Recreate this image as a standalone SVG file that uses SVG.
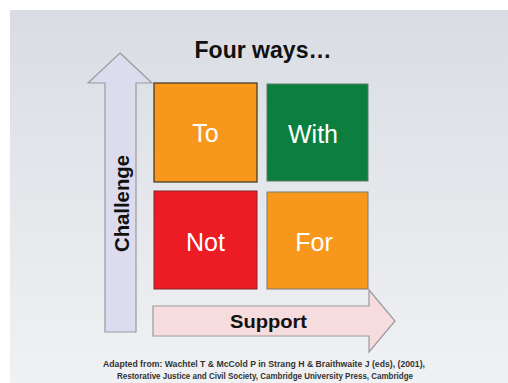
<svg xmlns="http://www.w3.org/2000/svg" width="508" height="383" viewBox="0 0 508 383">
  <style>
    .lbl { font-family: "Liberation Sans", Arial, sans-serif; fill: #ffffff; font-size: 25px; text-anchor: middle; }
    .bold { font-family: "Liberation Sans", Arial, sans-serif; font-weight: bold; fill: #111111; text-anchor: middle; }
    .foot { font-family: "Liberation Sans", Arial, sans-serif; font-weight: bold; fill: #333333; font-size: 9px; text-anchor: middle; }
    .axis { stroke: #9a9a9e; stroke-width: 1.2; }
  </style>
  <defs>
    <linearGradient id="bg" x1="0" y1="0" x2="0" y2="1">
      <stop offset="0" stop-color="#d9dde3"/>
      <stop offset="1" stop-color="#f0f1f3"/>
    </linearGradient>
  </defs>
  <rect x="0" y="0" width="508" height="383" fill="#ffffff"/>
  <rect x="10" y="10" width="498" height="373" fill="url(#bg)"/>

  <g id="title">
    <text class="bold" x="263" y="58" font-size="23" textLength="137" lengthAdjust="spacingAndGlyphs">Four ways…</text>
  </g>

  <g id="connectors">
    <g id="challenge-axis">
      <polygon class="axis" fill="#dcdcee" points="120,53 152,83 136,83 136,332 105,332 105,83 88,83"/>
      <text class="bold" font-size="20" transform="translate(129,203.5) rotate(-90)" textLength="97" lengthAdjust="spacingAndGlyphs">Challenge</text>
    </g>
    <g id="support-axis">
      <polygon class="axis" fill="#f6dcdc" points="153,306 369,306 369,290 395,321 369,352 369,336 153,336"/>
      <text class="bold" font-size="19" x="268.5" y="328" textLength="77" lengthAdjust="spacingAndGlyphs">Support</text>
    </g>
  </g>

  <g id="to">
    <rect x="154" y="83" width="103" height="99" fill="#f7981d" stroke="#3a3226" stroke-width="1.2"/>
    <text class="lbl" x="205.5" y="142">To</text>
  </g>
  <g id="with">
    <rect x="267" y="84" width="101" height="97" fill="#0c7f3f" stroke="#5a7a68" stroke-width="1"/>
    <text class="lbl" x="313" y="143">With</text>
  </g>
  <g id="not">
    <rect x="154" y="191" width="103" height="98" fill="#ec1c24" stroke="#8a2228" stroke-width="1"/>
    <text class="lbl" x="205.5" y="251">Not</text>
  </g>
  <g id="for">
    <rect x="267" y="192" width="101" height="97" fill="#f7981d" stroke="#7d7a74" stroke-width="1"/>
    <text class="lbl" x="314" y="251">For</text>
  </g>

  <g id="footer">
    <text class="foot" x="264" y="367" textLength="322" lengthAdjust="spacingAndGlyphs">Adapted from: Wachtel T &amp; McCold P in Strang H &amp; Braithwaite J (eds), (2001),</text>
    <text class="foot" x="265" y="379" textLength="296" lengthAdjust="spacingAndGlyphs">Restorative Justice and Civil Society, Cambridge University Press, Cambridge</text>
  </g>
</svg>
